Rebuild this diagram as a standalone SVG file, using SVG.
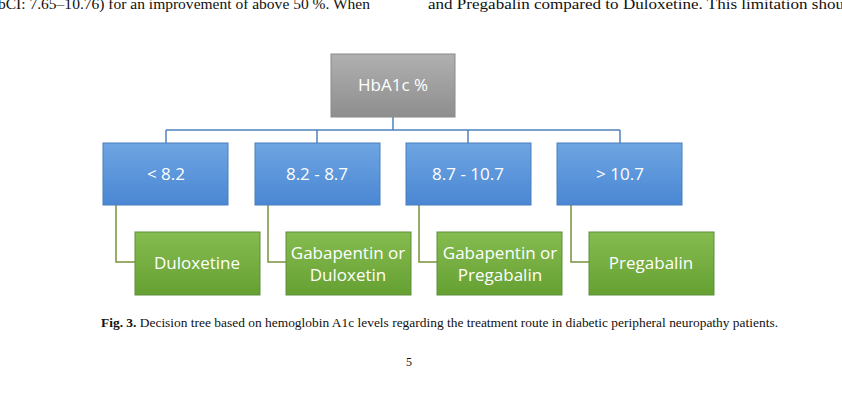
<svg xmlns="http://www.w3.org/2000/svg" width="842" height="401" viewBox="0 0 842 401">
<style>
.t{font-family:"Liberation Serif",serif;fill:#111}
.n{font-family:"Open Sans","DejaVu Sans",sans-serif;font-size:17px;fill:#fff;text-anchor:middle}
.b{stroke:#4a7ebb;stroke-width:1;fill:url(#gb)}
.g{stroke:#5f8f3a;stroke-width:1;fill:url(#gg)}
.c1{stroke:#4f81bd;stroke-width:1.5;fill:none}
.c2{stroke:#77933c;stroke-width:1.5;fill:none}
</style>
<defs>
<linearGradient id="gb" x1="0" y1="0" x2="0" y2="1"><stop offset="0" stop-color="#6ea5e2"/><stop offset="1" stop-color="#4a86d3"/></linearGradient>
<linearGradient id="gg" x1="0" y1="0" x2="0" y2="1"><stop offset="0" stop-color="#86bc50"/><stop offset="1" stop-color="#66a032"/></linearGradient>
<linearGradient id="gr" x1="0" y1="0" x2="0" y2="1"><stop offset="0" stop-color="#b0b0b0"/><stop offset="1" stop-color="#8e8e8e"/></linearGradient>
</defs>
<rect width="842" height="401" fill="#fff"/>
<text class="t" x="-2" y="9" font-size="15" textLength="372" lengthAdjust="spacingAndGlyphs">bCI: 7.65–10.76) for an improvement of above 50 %. When</text>
<text class="t" x="428" y="9" font-size="15" textLength="416" lengthAdjust="spacingAndGlyphs">and Pregabalin compared to Duloxetine. This limitation shou</text>
<g id="connectors">
<path class="c1" d="M393 117V130M166 130H620M166 130V143M317 130V143M468 130V143M620 130V143"/>
<path class="c2" d="M116 205V262H135M268 205V262H286M419 205V262H437M571 205V262H589"/>
</g>
<g id="root"><rect x="331" y="54" width="124" height="63" fill="url(#gr)" stroke="#8a8a8a"/><text class="n" x="393" y="91">HbA1c %</text></g>
<g id="b1"><rect class="b" x="103" y="143" width="125" height="62"/><text class="n" x="166" y="180">&lt; 8.2</text></g>
<g id="b2"><rect class="b" x="255" y="143" width="125" height="62"/><text class="n" x="317" y="180">8.2 - 8.7</text></g>
<g id="b3"><rect class="b" x="406" y="143" width="125" height="62"/><text class="n" x="468" y="180">8.7 - 10.7</text></g>
<g id="b4"><rect class="b" x="557" y="143" width="125" height="62"/><text class="n" x="620" y="180">&gt; 10.7</text></g>
<g id="g1"><rect class="g" x="135" y="232" width="125" height="63"/><text class="n" x="197" y="269">Duloxetine</text></g>
<g id="g2"><rect class="g" x="286" y="232" width="125" height="63"/><text class="n" x="348" y="259">Gabapentin or</text><text class="n" x="348" y="281">Duloxetin</text></g>
<g id="g3"><rect class="g" x="437" y="232" width="125" height="63"/><text class="n" x="500" y="259">Gabapentin or</text><text class="n" x="500" y="281">Pregabalin</text></g>
<g id="g4"><rect class="g" x="589" y="232" width="125" height="63"/><text class="n" x="651" y="269">Pregabalin</text></g>
<text class="t" x="101" y="327" font-size="13" textLength="677" lengthAdjust="spacingAndGlyphs"><tspan font-weight="bold">Fig. 3.</tspan> Decision tree based on hemoglobin A1c levels regarding the treatment route in diabetic peripheral neuropathy patients.</text>
<text class="t" x="409" y="366" font-size="12" text-anchor="middle">5</text>
</svg>
